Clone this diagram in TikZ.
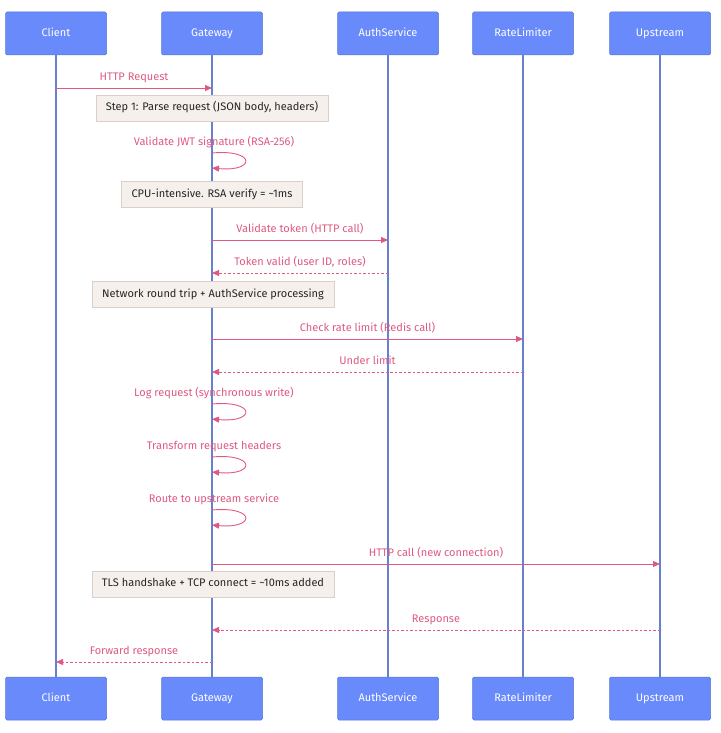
\documentclass[tikz,border=0pt]{standalone}
\usepackage{fontspec}
\setmainfont{Fira Sans}
\usetikzlibrary{arrows.meta}
\definecolor{actorblue}{RGB}{104,138,250}
\definecolor{lifeblue}{RGB}{104,128,205}
\definecolor{msgpink}{RGB}{222,90,128}
\definecolor{notefill}{RGB}{246,240,237}
\definecolor{notedraw}{RGB}{220,207,202}

\begin{document}
\begin{tikzpicture}[
    x=1pt, y=-1pt,
    font=\fontsize{11}{13}\selectfont,
    actor/.style={rectangle, fill=actorblue, draw=actorblue!85!black, line width=0.5pt,
                  rounded corners=1.5pt, minimum width=101pt, minimum height=43pt, text=white,
                  text height=8pt, text depth=2.5pt},
    life/.style={draw=lifeblue, line width=1.3pt},
    msg/.style={draw=msgpink, line width=0.9pt, -{Triangle[length=7pt,width=6pt]}},
    reply/.style={msg, dash pattern=on 2.5pt off 2pt},
    txt/.style={text=msgpink, text height=8pt, text depth=2.5pt},
    lbl/.style={txt, midway, yshift=10.5pt},
    note/.style={rectangle, fill=notefill, draw=notedraw, line width=0.5pt,
                 minimum height=26pt, inner xsep=10pt, text=black!85,
                 text height=8pt, text depth=2.5pt}
]
\useasboundingbox (0,0) rectangle (720,733);

% --- participants (top and bottom) ---
\node[actor] (cl) at (56,33.5) {Client};
\node[actor] (gw) at (212,33.5) {Gateway};
\node[actor] (au) at (388,33.5) {AuthService};
\node[actor] (rl) at (523,33.5) {RateLimiter};
\node[actor] (up) at (660,33.5) {Upstream};
\node[actor] (clB) at (56,698.5) {Client};
\node[actor] (gwB) at (212,698.5) {Gateway};
\node[actor] (auB) at (388,698.5) {AuthService};
\node[actor] (rlB) at (523,698.5) {RateLimiter};
\node[actor] (upB) at (660,698.5) {Upstream};

% --- lifelines ---
\foreach \p in {cl,gw,au,rl,up}
  \draw[life] (\p.south) -- (\p B.north);

% --- messages ---
\draw[msg] (cl |- 0,88) -- node[lbl] {HTTP Request} (gw |- 0,88);
\node[note] (n1) at (212,108) {Step 1: Parse request (JSON body, headers)};

\node[txt] (s1) at (214,142.5) {Validate JWT signature (RSA-256)};
\draw[msg] (gw |- 0,153) .. controls +(44,-4) and +(44,4) .. (gw |- 0,168);
\node[note] (n2) at (212,194.5) {CPU-intensive. RSA verify = \textasciitilde1ms};

\draw[msg] (gw |- 0,240) -- node[lbl] {Validate token (HTTP call)} (au |- 0,240);
\draw[reply] (au |- 0,273) -- node[lbl] {Token valid (user ID, roles)} (gw |- 0,273);
\node[note] (n3) at (213,294.5) {Network round trip + AuthService processing};

\draw[msg] (gw |- 0,339) -- node[lbl] {Check rate limit (Redis call)} (rl |- 0,339);
\draw[reply] (rl |- 0,372) -- node[lbl] {Under limit} (gw |- 0,372);

\node[txt] (s2) at (214,393.5) {Log request (synchronous write)};
\draw[msg] (gw |- 0,404) .. controls +(44,-4) and +(44,4) .. (gw |- 0,419);
\node[txt] (s3) at (214,446.5) {Transform request headers};
\draw[msg] (gw |- 0,457) .. controls +(44,-4) and +(44,4) .. (gw |- 0,472);
\node[txt] (s4) at (214,499.5) {Route to upstream service};
\draw[msg] (gw |- 0,510) .. controls +(44,-4) and +(44,4) .. (gw |- 0,525);

\draw[msg] (gw |- 0,564) -- node[lbl] {HTTP call (new connection)} (up |- 0,564);
\node[note] (n4) at (213,584) {TLS handshake + TCP connect = \textasciitilde10ms added};

\draw[reply] (up |- 0,630) -- node[lbl] {Response} (gw |- 0,630);
\draw[reply] (gw |- 0,662) -- node[lbl] {Forward response} (cl |- 0,662);
\end{tikzpicture}
\end{document}
